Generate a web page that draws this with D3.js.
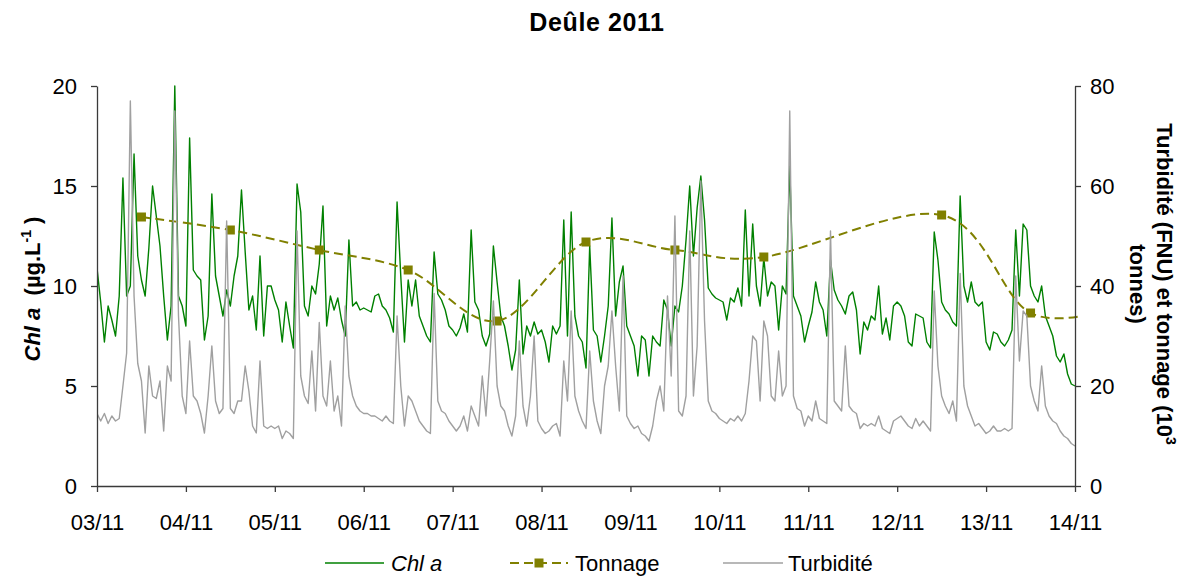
<!DOCTYPE html>
<html><head><meta charset="utf-8">
<script src="https://cdn.jsdelivr.net/npm/d3@7"></script>
<style>
body{margin:0;background:#fff}
text{font-family:"Liberation Sans",Arial,sans-serif;fill:#000}
</style>
</head><body>
<svg id="chart" width="1186" height="579"></svg>
<script>
// ---- data ----
const title = "Deûle 2011";
const dateLabels = ["03/11","04/11","05/11","06/11","07/11","08/11","09/11","10/11","11/11","12/11","13/11","14/11"];
const chlTicks = [0, 5, 10, 15, 20];
const rightTicks = [0, 20, 40, 60, 80];
const samplesPerDay = 24; // hourly readings

// Chl a (µg/L), hourly from 03/11 00h to 14/11 00h
const chl = [
 10.9, 9.2, 7.2, 9.0, 8.3, 7.5, 9.5, 15.4, 9.5, 10.0, 16.6, 11.5, 10.3, 9.5, 11.9, 15.0, 13.5, 12.0, 9.5, 7.3, 9.0, 20.0, 9.5, 9.0,
 8.0, 17.4, 10.8, 10.5, 10.3, 7.3, 8.5, 14.6, 10.5, 9.5, 8.5, 9.8, 9.0, 10.5, 11.5, 14.8, 11.7, 8.8, 9.5, 7.8, 11.5, 7.5, 10.0, 10.0,
 9.3, 8.8, 7.2, 9.2, 8.0, 6.9, 15.1, 13.7, 9.0, 8.5, 10.0, 9.6, 11.1, 14.0, 8.0, 9.5, 8.8, 9.4, 8.3, 7.5, 12.3, 9.0, 9.2, 8.8,
 8.9, 8.8, 8.7, 9.5, 9.6, 9.0, 8.8, 8.4, 7.7, 14.2, 10.5, 7.2, 10.3, 9.0, 10.3, 8.5, 8.0, 7.5, 7.2, 11.7, 9.6, 9.3, 8.8, 8.0,
 7.8, 7.5, 7.9, 8.6, 7.7, 12.8, 9.2, 8.8, 7.5, 7.0, 7.6, 12.0, 10.2, 8.5, 8.0, 7.0, 5.8, 6.8, 10.3, 6.6, 8.0, 7.5, 8.2, 7.6,
 7.8, 7.2, 6.2, 8.0, 7.6, 8.0, 13.3, 7.5, 13.7, 8.5, 7.5, 7.2, 5.9, 12.0, 7.8, 7.5, 6.2, 7.5, 9.0, 13.4, 8.5, 10.2, 11.0, 8.0,
 7.5, 7.0, 5.5, 7.5, 7.3, 5.5, 7.5, 7.2, 7.0, 9.3, 8.8, 7.0, 9.0, 8.7, 10.0, 12.3, 15.0, 11.5, 13.9, 15.5, 13.3, 9.9, 9.6, 9.4,
 9.3, 9.2, 8.3, 9.4, 9.2, 9.9, 9.0, 13.8, 9.5, 13.1, 10.0, 9.0, 11.4, 9.5, 10.2, 10.0, 7.8, 10.0, 9.6, 16.0, 9.5, 9.0, 8.5, 7.2,
 8.0, 8.7, 10.2, 9.2, 8.8, 7.5, 11.3, 9.8, 9.3, 9.0, 8.6, 9.5, 9.7, 8.8, 6.6, 8.2, 7.8, 8.5, 8.3, 10.0, 7.6, 8.4, 7.3, 9.0,
 9.2, 9.0, 8.5, 7.2, 7.0, 8.6, 8.5, 8.4, 7.2, 6.9, 12.7, 11.3, 9.2, 8.8, 8.6, 8.2, 8.0, 14.5, 10.0, 9.2, 10.2, 9.2, 9.0, 9.2,
 7.2, 6.8, 7.7, 7.6, 7.2, 7.0, 7.3, 7.8, 12.8, 9.5, 13.1, 12.8, 10.0, 9.5, 9.2, 10.0, 8.5, 8.0, 7.5, 6.5, 6.2, 6.6, 5.6, 5.1, 5.0
];

// Turbidité (FNU), hourly, same timestamps
const turbidite = [
 14.5, 13, 14.5, 12.5, 14, 13, 13.5, 20, 26.6, 77, 38, 24.5, 21, 10.6, 24, 18, 17.5, 21, 11, 24, 21, 75, 34, 18,
 14.5, 29, 18, 17, 14.5, 10.6, 18, 28, 17, 14.5, 15.5, 53, 15.5, 14.5, 17, 17, 24, 19, 12, 10.6, 25, 12, 11.5, 12,
 11.5, 12, 9.5, 11, 10.5, 9.5, 51, 22, 18, 16.5, 27, 15, 32.7, 18, 16, 25, 15, 18, 12, 36, 22, 18, 16, 15,
 14.5, 14.5, 14, 14, 13.5, 13, 14, 13, 12.5, 34, 20, 12, 18, 17, 15, 13, 12, 11, 10.5, 38.5, 17, 15, 14.5, 13,
 12, 11, 12, 14, 11, 16, 14, 12, 22, 14, 25, 37, 20, 16, 15, 12, 10, 14, 29, 16, 12, 18, 30, 13,
 11.5, 10.5, 11, 12, 12.5, 10, 25, 17, 35, 18, 15, 13, 11.5, 27, 17, 13, 10.5, 20, 24, 35, 24, 15, 42, 14,
 12.5, 11.5, 12, 10.5, 10, 9, 12, 17, 20, 15, 38, 22, 54, 15, 14, 18, 51, 18, 28, 61, 33, 17, 15, 14.5,
 13.5, 13, 12.5, 13.5, 13, 14, 13, 14.5, 21, 30, 29, 17, 33, 30, 18, 17, 27, 18, 20, 75, 18, 15.5, 15, 12,
 14, 13, 17, 13.5, 13, 12.5, 51, 17, 16, 15, 28, 16, 15, 14.5, 11.5, 12.5, 12, 12.5, 12, 14, 11.5, 11, 10.5, 13,
 13.5, 14, 13, 12, 11.5, 13.5, 12, 13, 12, 11, 39, 24, 18, 16, 14.5, 17, 13, 42.5, 20, 16, 14, 12, 12.5, 11.5,
 10.5, 11, 12, 11, 11, 11.5, 11, 11.5, 42, 25, 35, 34, 20, 17, 15, 24, 16, 14, 13, 12.5, 11, 10, 9.5, 8.5, 8
];

// Tonnage (10^3 t), daily at midday (no value on 11/11)
const tonnageDays = [0.5, 1.5, 2.5, 3.5, 4.5, 5.5, 6.5, 7.5, 9.5, 10.5, 11.5];
const tonnage = [53.8, 51.2, 47.2, 43.2, 33.0, 48.8, 47.2, 45.8, 54.2, 34.6, 36.0];

// ---- layout ----
const W = 1186, H = 579;
const plot = {left: 97, right: 1075, top: 86, bottom: 486};
const colChl = "#008000", colTon = "#808000", colTurb = "#a0a0a0", colAxis = "#3a3a3a";
const fontTick = 22;

const svg = d3.select("#chart");

const x = d3.scaleLinear().domain([0, dateLabels.length - 1]).range([plot.left, plot.right]);
const yL = d3.scaleLinear().domain([0, 20]).range([plot.bottom, plot.top]);
const yR = d3.scaleLinear().domain([0, 80]).range([plot.bottom, plot.top]);

svg.append("defs").append("clipPath").attr("id", "clip")
  .append("rect").attr("x", plot.left).attr("y", plot.top - 2)
  .attr("width", plot.right - plot.left + 7).attr("height", plot.bottom - plot.top + 2);

// Title
svg.append("text").attr("x", 597).attr("y", 31).attr("text-anchor", "middle")
  .style("font-size", "25px").style("font-weight", "bold").style("letter-spacing", "0.6px").text(title);

// Series
const g = svg.append("g").attr("clip-path", "url(#clip)");
const chlPts = chl.map((v, i) => [i / samplesPerDay, v]);
const turbPts = turbidite.map((v, i) => [i / samplesPerDay, v]);

g.append("path").datum(chlPts)
  .attr("fill", "none").attr("stroke", colChl).attr("stroke-width", 1.4).attr("stroke-linejoin", "round")
  .attr("d", d3.line().x(d => x(d[0])).y(d => yL(d[1])));

const tonPts = tonnage.map((v, i) => [tonnageDays[i], v]);
g.append("path").datum(tonPts)
  .attr("fill", "none").attr("stroke", colTon).attr("stroke-width", 2).attr("stroke-dasharray", "9,5")
  .attr("d", d3.line().curve(d3.curveCardinal.tension(0)).x(d => x(d[0])).y(d => yR(d[1])));
g.selectAll("rect.mk").data(tonPts).enter().append("rect").attr("class", "mk")
  .attr("x", d => x(d[0]) - 4.5).attr("y", d => yR(d[1]) - 4.5)
  .attr("width", 9).attr("height", 9).attr("fill", colTon);

g.append("path").datum(turbPts)
  .attr("fill", "none").attr("stroke", colTurb).attr("stroke-width", 1.4).attr("stroke-linejoin", "round")
  .attr("d", d3.line().x(d => x(d[0])).y(d => yR(d[1])));

// Axes
function styleAxis(sel) {
  sel.selectAll("path.domain").attr("stroke", colAxis).attr("stroke-width", 1.3);
  sel.selectAll(".tick line").attr("stroke", colAxis).attr("stroke-width", 1.3);
  sel.selectAll(".tick text").style("font-size", fontTick + "px").style("font-family", '"Liberation Sans",Arial,sans-serif').attr("fill", "#000");
}
const axL = svg.append("g").attr("transform", `translate(${plot.left},0)`)
  .call(d3.axisLeft(yL).tickValues(chlTicks).tickSize(6).tickSizeOuter(0).tickPadding(14));
styleAxis(axL);
const axR = svg.append("g").attr("transform", `translate(${plot.right},0)`)
  .call(d3.axisRight(yR).tickValues(rightTicks).tickSize(6).tickSizeOuter(0).tickPadding(9));
styleAxis(axR);
const axB = svg.append("g").attr("transform", `translate(0,${plot.bottom})`)
  .call(d3.axisBottom(x).tickValues(d3.range(dateLabels.length)).tickFormat(i => dateLabels[i])
    .tickSize(6).tickSizeOuter(0).tickPadding(22));
styleAxis(axB);

// Left axis title
const lt = svg.append("text").attr("transform", "translate(40,289) rotate(-90)")
  .attr("text-anchor", "middle").style("font-size", "22px").style("font-weight", "bold");
lt.append("tspan").style("font-style", "italic").text("Chl a");
lt.append("tspan").text("\u00a0 (µg.L");
lt.append("tspan").attr("dy", -9).style("font-size", "14px").text("-1");
lt.append("tspan").attr("dy", 9).text("\u00a0)");

// Right axis title (two lines)
const rt = svg.append("g").attr("transform", "translate(1157,284) rotate(90)");
const r1 = rt.append("text").attr("text-anchor", "middle").style("font-size", "22px").style("font-weight", "bold");
r1.append("tspan").text("Turbidité (FNU) et tonnage (10");
r1.append("tspan").attr("dy", -9).style("font-size", "14px").text("3");
rt.append("text").attr("y", 27).attr("text-anchor", "middle").style("font-size", "22px").style("font-weight", "bold").text("tonnes)");

// Legend
const legY = 563;
const leg = svg.append("g");
leg.append("line").attr("x1", 325).attr("x2", 384).attr("y1", legY).attr("y2", legY).attr("stroke", colChl).attr("stroke-width", 1.4);
leg.append("text").attr("x", 391).attr("y", legY + 8).style("font-size", "22px").style("font-style", "italic").text("Chl a");
leg.append("line").attr("x1", 510).attr("x2", 568).attr("y1", legY).attr("y2", legY).attr("stroke", colTon).attr("stroke-width", 2).attr("stroke-dasharray", "9,5");
leg.append("rect").attr("x", 539 - 4.5).attr("y", legY - 4.5).attr("width", 9).attr("height", 9).attr("fill", colTon);
leg.append("text").attr("x", 575).attr("y", legY + 8).style("font-size", "22px").text("Tonnage");
leg.append("line").attr("x1", 723).attr("x2", 783).attr("y1", legY).attr("y2", legY).attr("stroke", colTurb).attr("stroke-width", 1.4);
leg.append("text").attr("x", 788).attr("y", legY + 8).style("font-size", "22px").text("Turbidité");
</script>
</body></html>
